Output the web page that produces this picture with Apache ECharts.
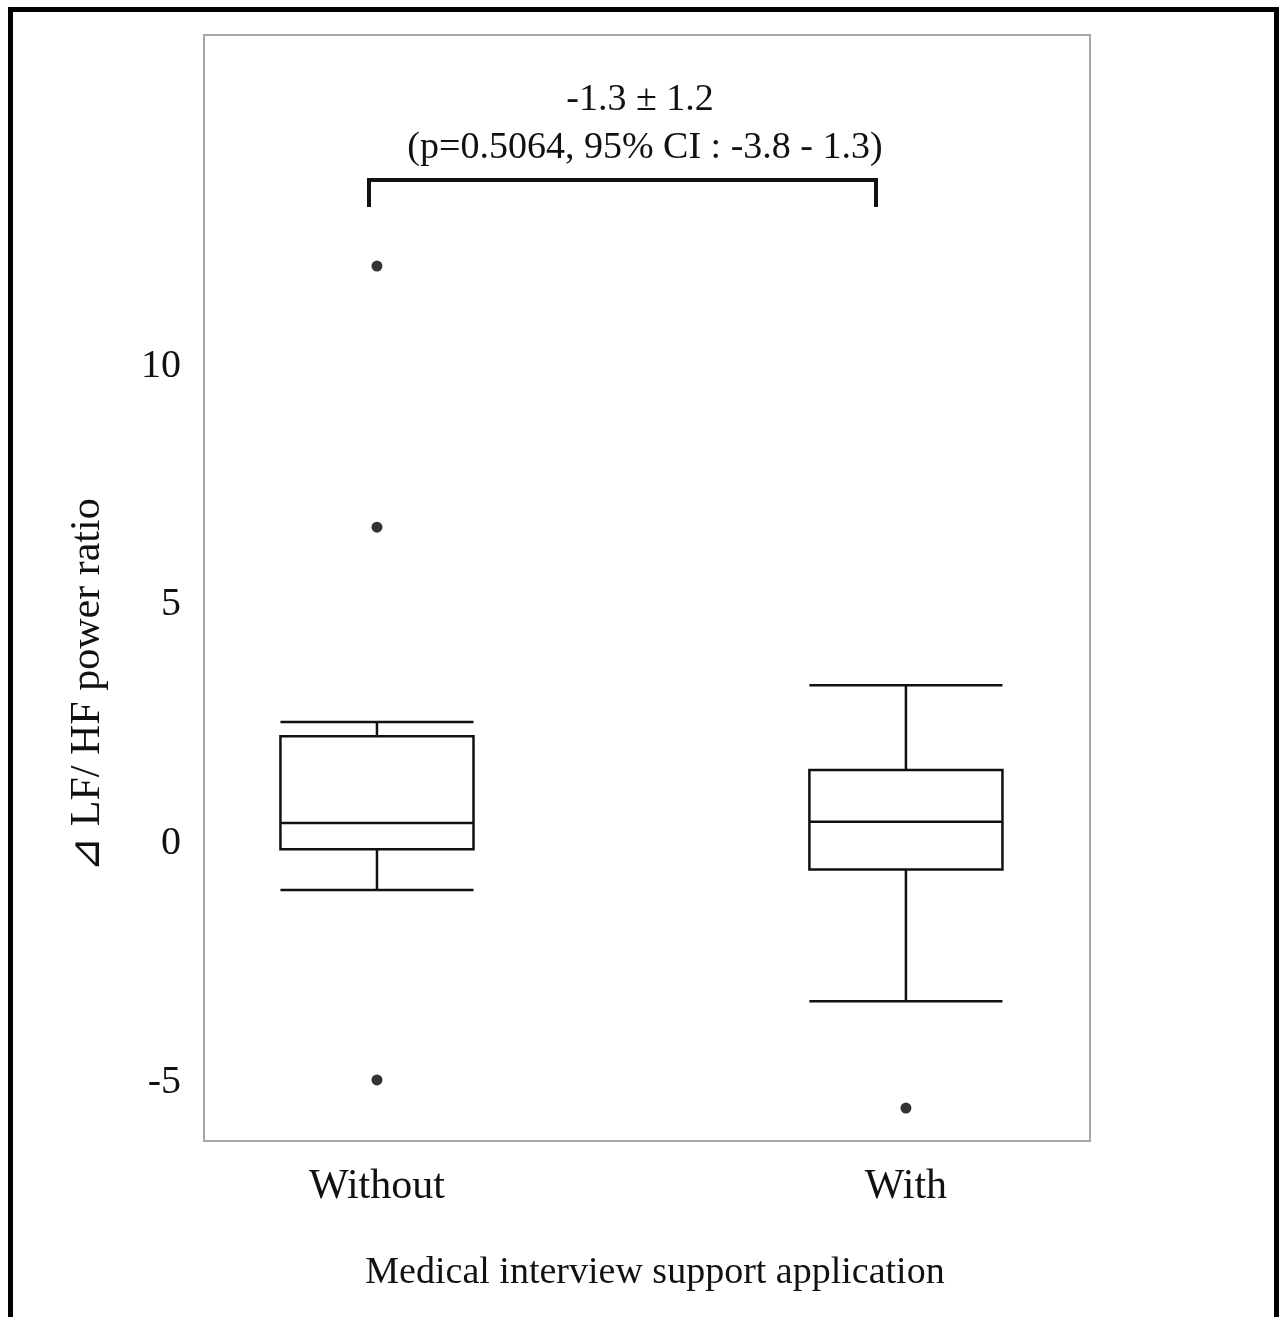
<!DOCTYPE html>
<html>
<head>
<meta charset="utf-8">
<script src="https://cdn.jsdelivr.net/npm/echarts@6/dist/echarts.min.js"></script>
<style>
html,body{margin:0;padding:0;background:#fff;}
#chart{width:1280px;height:1317px;}
</style>
</head>
<body>
<div id="chart"></div>
<script>
// ---- data ----
const categories = ['Without', 'With'];
const categoryPos = [1, 2];
// [lower whisker, Q1, median, Q3, upper whisker]
const boxWithout = [-0.97, -0.12, 0.43, 2.25, 2.55];
const boxWith = [-3.30, -0.54, 0.46, 1.54, 3.32];
const outliersWithout = [12.1, 6.63, -4.95];
const outliersWith = [-5.54];
const yTickValues = [-5, 0, 5, 10];
const annotationLine1 = '-1.3 \u00B1 1.2';
const annotationLine2 = '(p=0.5064, 95% CI : -3.8 - 1.3)';
const yAxisTitle = '\u22BF LF/ HF power ratio';
const xAxisTitle = 'Medical interview support application';

const FONT = '"Liberation Serif", "Times New Roman", serif';
const boxes = [boxWithout, boxWith];
const boxData = boxes.map((b, i) => [categoryPos[i]].concat(b));
const outlierData = [];
outliersWithout.forEach(v => outlierData.push([categoryPos[0], v]));
outliersWith.forEach(v => outlierData.push([categoryPos[1], v]));

const chart = echarts.init(document.getElementById('chart'), null, {renderer: 'canvas'});
const option = {
  backgroundColor: '#fff',
  animation: false,
  grid: {
    left: 204, right: 190, top: 35, bottom: 176,
    show: true, borderColor: '#a6a6a6', borderWidth: 2, backgroundColor: 'transparent'
  },
  xAxis: {
    type: 'value', min: 0.673, max: 2.348,
    axisLine: {show: false}, axisTick: {show: false}, splitLine: {show: false},
    axisLabel: {
      customValues: categoryPos,
      formatter: v => categories[categoryPos.indexOf(v)] || '',
      fontFamily: FONT, fontSize: 42, color: '#111', margin: 25
    },
    name: xAxisTitle, nameLocation: 'middle', nameGap: 113,
    nameTextStyle: {fontFamily: FONT, fontSize: 38, color: '#111', padding: [0, 0, 0, 16]}
  },
  yAxis: {
    type: 'value', min: -6.23, max: 16.94,
    axisLine: {show: false}, axisTick: {show: false}, splitLine: {show: false},
    axisLabel: {
      customValues: yTickValues,
      fontFamily: FONT, fontSize: 40, color: '#111', margin: 23
    }
  },
  series: [
    {
      type: 'custom',
      data: boxData,
      renderItem: function (params, api) {
        const x = api.value(0);
        const lo = api.coord([x, api.value(1)]);
        const q1 = api.coord([x, api.value(2)]);
        const md = api.coord([x, api.value(3)]);
        const q3 = api.coord([x, api.value(4)]);
        const hi = api.coord([x, api.value(5)]);
        const hw = api.size([0.365, 0])[0] / 2;
        const cx = lo[0];
        const st = {stroke: '#111', lineWidth: 2.5, fill: null};
        return {
          type: 'group',
          children: [
            {type: 'rect', shape: {x: cx - hw, y: q3[1], width: 2 * hw, height: q1[1] - q3[1]}, style: {stroke: '#111', lineWidth: 2.5, fill: '#fff'}},
            {type: 'line', shape: {x1: cx - hw, y1: md[1], x2: cx + hw, y2: md[1]}, style: st},
            {type: 'line', shape: {x1: cx, y1: q3[1], x2: cx, y2: hi[1]}, style: st},
            {type: 'line', shape: {x1: cx, y1: q1[1], x2: cx, y2: lo[1]}, style: st},
            {type: 'line', shape: {x1: cx - hw, y1: hi[1], x2: cx + hw, y2: hi[1]}, style: st},
            {type: 'line', shape: {x1: cx - hw, y1: lo[1], x2: cx + hw, y2: lo[1]}, style: st}
          ]
        };
      }
    },
    {
      type: 'scatter',
      data: outlierData,
      symbol: 'circle',
      symbolSize: 11,
      itemStyle: {color: '#000'}
    }
  ],
  graphic: [
    {type: 'rect', shape: {x: 10.5, y: 9.5, width: 1266, height: 1400}, style: {fill: null, stroke: '#000', lineWidth: 5}, silent: true},
    {type: 'polyline', shape: {points: [[369, 207], [369, 180], [876, 180], [876, 207]]}, style: {stroke: '#111', lineWidth: 4, fill: null}},
    {type: 'text', x: 640, y: 100, style: {text: annotationLine1, font: '38px ' + FONT, fill: '#111', textAlign: 'center', textVerticalAlign: 'middle'}},
    {type: 'text', x: 645, y: 148, style: {text: annotationLine2, font: '38px ' + FONT, fill: '#111', textAlign: 'center', textVerticalAlign: 'middle'}},
    {type: 'text', x: 88, y: 685, rotation: Math.PI / 2, style: {text: yAxisTitle, font: '42px ' + FONT, fill: '#111', textAlign: 'center', textVerticalAlign: 'middle'}}
  ]
};
chart.setOption(option);
</script>
</body>
</html>
